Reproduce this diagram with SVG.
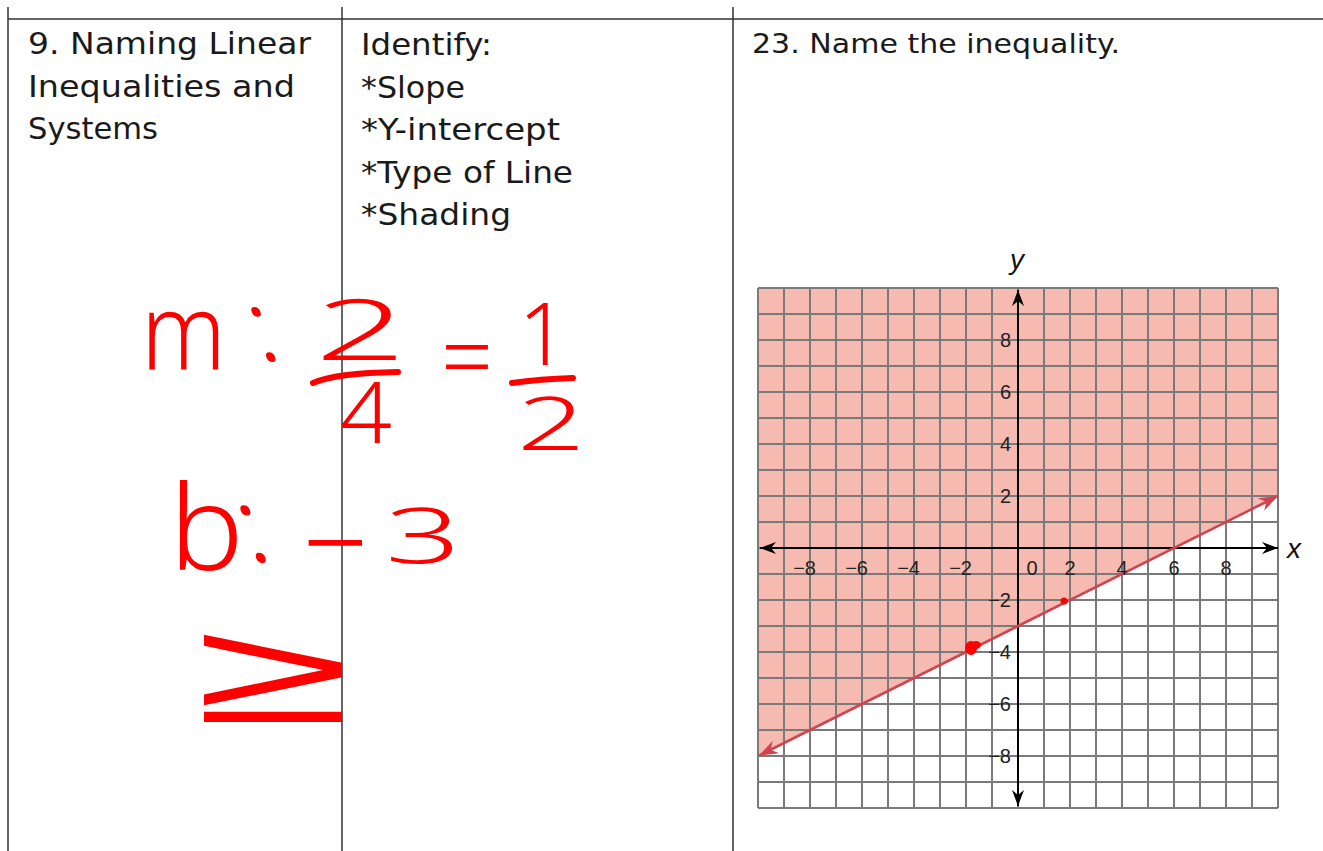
<svg xmlns="http://www.w3.org/2000/svg" width="1323" height="851" viewBox="0 0 1323 851">
<defs>
<style>
.t{font-family:"DejaVu Sans","Liberation Sans",sans-serif;font-size:29.5px;fill:#1a1a1a}
.t2{font-family:"DejaVu Sans","Liberation Sans",sans-serif;font-size:27px;fill:#1a1a1a}
.rule{stroke:#333;stroke-width:1.5;fill:none}
.grid{stroke:#7a7a7a;stroke-width:2;fill:none}
.ax{stroke:#000;stroke-width:2;fill:none}
.lbl{font-family:"Liberation Sans",Arial,sans-serif;font-size:20px;fill:#222}
.lv{font-family:"Liberation Sans",Arial,sans-serif;font-size:28px;font-style:italic;fill:#111}
.hw{font-family:"Noto Sans","DejaVu Sans",sans-serif;fill:#ff0000}
.ge{font-family:"DejaVu Sans","Noto Sans",sans-serif;fill:#ff0000;font-weight:200}
.bar{fill:none;stroke:#ff0000;stroke-width:6;stroke-linecap:round}
</style>
<marker id="ahk" viewBox="-16 -7 17 14" refX="0" refY="0" markerWidth="17" markerHeight="14" markerUnits="userSpaceOnUse" orient="auto-start-reverse">
<path d="M0,0 L-16,-6 L-11,0 L-16,6 Z" fill="#000"/>
</marker>
<marker id="ahr" viewBox="-20 -8 21 16" refX="0" refY="0" markerWidth="21" markerHeight="16" markerUnits="userSpaceOnUse" orient="auto-start-reverse">
<path d="M0,0 L-19,-7 L-13,0 L-19,7 Z" fill="#d4424e"/>
</marker>
</defs>
<rect width="1323" height="851" fill="#fff"/>

<g id="table">
<line class="rule" x1="8" y1="19" x2="1323" y2="19"/>
<line class="rule" x1="8" y1="7" x2="8" y2="851"/>
<line class="rule" x1="342" y1="7" x2="342" y2="851"/>
<line class="rule" x1="733" y1="7" x2="733" y2="851"/>
</g>

<g id="col1">
<text class="t" x="28" y="54" textLength="283" lengthAdjust="spacingAndGlyphs">9. Naming Linear</text>
<text class="t" x="28" y="97" textLength="267" lengthAdjust="spacingAndGlyphs">Inequalities and</text>
<text class="t" x="28" y="139" textLength="130" lengthAdjust="spacingAndGlyphs">Systems</text>
</g>

<g id="col2">
<text class="t" x="361" y="55" textLength="131" lengthAdjust="spacingAndGlyphs">Identify:</text>
<text class="t" x="361" y="98" textLength="104" lengthAdjust="spacingAndGlyphs">*Slope</text>
<text class="t" x="361" y="140" textLength="199" lengthAdjust="spacingAndGlyphs">*Y-intercept</text>
<text class="t" x="361" y="183" textLength="212" lengthAdjust="spacingAndGlyphs">*Type of Line</text>
<text class="t" x="361" y="225" textLength="150" lengthAdjust="spacingAndGlyphs">*Shading</text>
</g>

<g id="col3">
<text class="t2" x="752" y="53" textLength="368" lengthAdjust="spacingAndGlyphs">23. Name the inequality.</text>
</g>

<g id="graph">
<polygon points="758,288 1278,288 1278,496 758,756" fill="#f6bab0"/>
<path class="grid" d="M758 288V808M784 288V808M810 288V808M836 288V808M862 288V808M888 288V808M914 288V808M940 288V808M966 288V808M992 288V808M1018 288V808M1044 288V808M1070 288V808M1096 288V808M1122 288V808M1148 288V808M1174 288V808M1200 288V808M1226 288V808M1252 288V808M1278 288V808
M758 288H1278M758 314H1278M758 340H1278M758 366H1278M758 392H1278M758 418H1278M758 444H1278M758 470H1278M758 496H1278M758 522H1278M758 548H1278M758 574H1278M758 600H1278M758 626H1278M758 652H1278M758 678H1278M758 704H1278M758 730H1278M758 756H1278M758 782H1278M758 808H1278"/>
</g>

<g id="connectors">
<line class="ax" x1="760" y1="548" x2="1278" y2="548" marker-start="url(#ahk)" marker-end="url(#ahk)"/>
<line class="ax" x1="1018" y1="290" x2="1018" y2="806" marker-start="url(#ahk)" marker-end="url(#ahk)"/>
<line x1="759" y1="755.5" x2="1278" y2="496" stroke="#d4424e" stroke-width="2.5" marker-start="url(#ahr)" marker-end="url(#ahr)"/>
</g>

<g id="axis-labels">
<text class="lbl" x="816" y="575" text-anchor="end">−8</text>
<text class="lbl" x="868" y="575" text-anchor="end">−6</text>
<text class="lbl" x="920" y="575" text-anchor="end">−4</text>
<text class="lbl" x="972" y="575" text-anchor="end">−2</text>
<text class="lbl" x="1032" y="575" text-anchor="middle">0</text>
<text class="lbl" x="1070" y="575" text-anchor="middle">2</text>
<text class="lbl" x="1122" y="575" text-anchor="middle">4</text>
<text class="lbl" x="1174" y="575" text-anchor="middle">6</text>
<text class="lbl" x="1226" y="575" text-anchor="middle">8</text>
<text class="lbl" x="1011" y="347" text-anchor="end">8</text>
<text class="lbl" x="1011" y="399" text-anchor="end">6</text>
<text class="lbl" x="1011" y="451" text-anchor="end">4</text>
<text class="lbl" x="1011" y="503" text-anchor="end">2</text>
<text class="lbl" x="1011" y="607" text-anchor="end">−2</text>
<text class="lbl" x="1011" y="659" text-anchor="end">−4</text>
<text class="lbl" x="1011" y="711" text-anchor="end">−6</text>
<text class="lbl" x="1011" y="763" text-anchor="end">−8</text>
<text class="lv" x="1017" y="269" text-anchor="middle">y</text>
<text class="lv" x="1294" y="558" text-anchor="middle">x</text>
</g>

<g id="ink-dots" fill="#ff0000">
<circle cx="1064" cy="601" r="3.5"/>
<ellipse cx="971" cy="648" rx="6" ry="7"/>
<ellipse cx="976" cy="645" rx="5" ry="4"/>
</g>

<g id="handwriting">
<text class="hw" style="font-weight:300" x="141" y="370" font-size="106" textLength="85" lengthAdjust="spacingAndGlyphs">m</text>
<text class="hw" style="font-weight:300" transform="translate(272,361) skewX(18)" font-size="100" text-anchor="middle">:</text>
<text class="hw" style="font-weight:350" x="315" y="360" font-size="84" textLength="91" lengthAdjust="spacingAndGlyphs">2</text>
<path class="bar" d="M313,383 Q335,373 398,372"/>
<text class="hw" style="font-weight:350" x="340" y="443" font-size="84" textLength="52" lengthAdjust="spacingAndGlyphs">4</text>
<text class="hw" style="font-weight:300" x="441" y="391" font-size="95" textLength="52" lengthAdjust="spacingAndGlyphs">=</text>
<text class="hw" style="font-weight:350" x="543" y="365" font-size="87" text-anchor="middle">1</text>
<path class="bar" d="M512,383 Q540,379 573,378"/>
<text class="hw" style="font-weight:350" x="517" y="450" font-size="74" textLength="68" lengthAdjust="spacingAndGlyphs">2</text>
<text class="hw" style="font-weight:260" x="169" y="570" font-size="118" textLength="75" lengthAdjust="spacingAndGlyphs">b</text>
<text class="hw" style="font-weight:300" transform="translate(262,562) skewX(18)" font-size="105" text-anchor="middle">:</text>
<text class="hw" style="font-weight:400" x="303" y="571" font-size="80" textLength="65" lengthAdjust="spacingAndGlyphs">−</text>
<text class="hw" style="font-weight:350" x="385" y="563" font-size="78" textLength="76" lengthAdjust="spacingAndGlyphs">3</text>
<text class="ge" x="195" y="722" font-size="145" textLength="156" lengthAdjust="spacingAndGlyphs">≥</text>
</g>
</svg>
